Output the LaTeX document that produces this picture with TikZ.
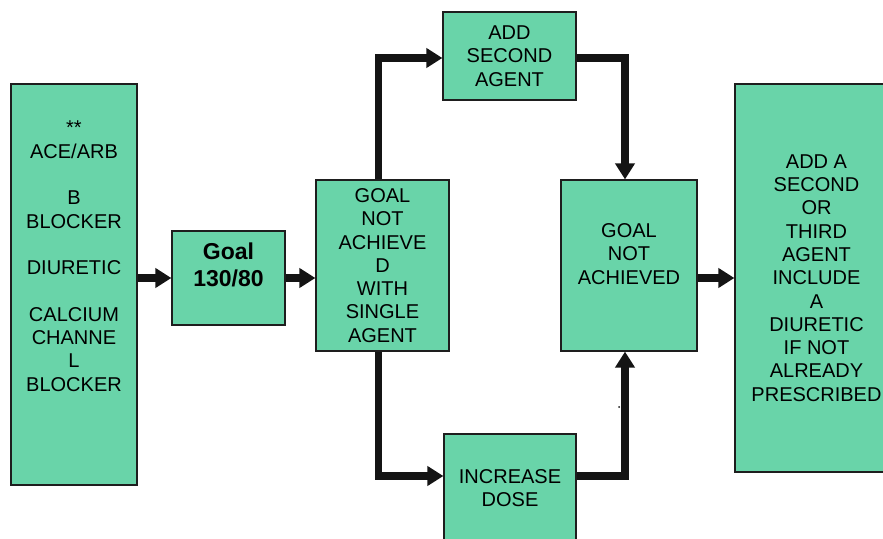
\documentclass[tikz,border=0pt]{standalone}
\usepackage{fontspec}
\setmainfont{Liberation Sans}
\usetikzlibrary{arrows.meta,positioning}
\definecolor{boxgreen}{RGB}{105,212,169}
\definecolor{boxline}{RGB}{30,30,30}
\definecolor{arrowblack}{RGB}{20,20,20}
\newcommand{\boxfont}{\fontsize{20}{23.3}\selectfont}
\newcommand{\goalfont}{\fontsize{23}{27}\selectfont\bfseries}

\begin{document}
\begin{tikzpicture}[x=1pt,y=-1pt,
    box/.style={draw=boxline,line width=1.2pt,fill=boxgreen,inner sep=0pt,align=center,font=\boxfont},
    flow/.style={draw=arrowblack,line width=7.3pt,-{Triangle[length=16pt,width=19pt]}}]
    \useasboundingbox (0,0) rectangle (883,538);
    % Boxes
    \node[box,minimum width=126pt,minimum height=401pt] (drugs) at (74,284.5) {};
    \node[anchor=north,inner sep=0pt,align=center,font=\boxfont] (druglist) at (74,121)
        {**\\ACE/ARB\\[23.3pt]B\\BLOCKER\\[23.3pt]DIURETIC\\[23.3pt]CALCIUM\\CHANNE\\L\\BLOCKER};
    \node[box,minimum width=113pt,minimum height=94pt,font=\goalfont] (goal) at (228.5,278) {Goal\\130/80\\\mbox{}};
    \node[box,minimum width=133pt,minimum height=171pt] (single) at (382.5,265.5)
        {GOAL\\NOT\\ACHIEVE\\D\\WITH\\SINGLE\\AGENT};
    \node[box,minimum width=133pt,minimum height=88pt] (second) at (509.5,56) {ADD\\SECOND\\AGENT};
    \node[box,minimum width=132pt,minimum height=108pt] (dose) at (510,488) {INCREASE\\DOSE};
    \node[box,minimum width=136pt,minimum height=171pt] (notach) at (629,265.5) {GOAL\\NOT\\ACHIEVED\\\mbox{}};
    \node[box,minimum width=163pt,minimum height=388pt] (third) at (816.5,278)
        {ADD A\\SECOND\\OR\\THIRD\\AGENT\\INCLUDE\\A\\DIURETIC\\IF NOT\\ALREADY\\PRESCRIBED};
    % Arrows
    \draw[flow] (drugs.east |- goal.west) -- (goal.west);
    \draw[flow] (goal.east) -- (single.west |- goal.east);
    \draw[flow] ([xshift=-4pt]single.north) |- ([yshift=-2pt]second.west);
    \draw[flow] ([xshift=-4pt]single.south) |- ([yshift=12pt]dose.west);
    \draw[flow] ([yshift=-2pt]second.east) -| ([xshift=-4pt]notach.north);
    \draw[flow] ([yshift=12pt]dose.east) -| ([xshift=-4pt]notach.south);
    \draw[flow] (notach.east |- third.west) -- (third.west);
    \fill[arrowblack] (619,407) circle (1pt);
\end{tikzpicture}
\end{document}
